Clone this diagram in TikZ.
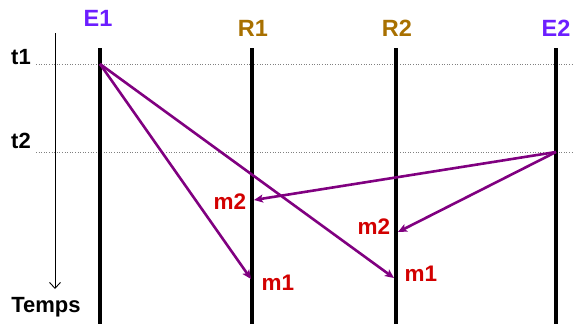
\documentclass[tikz,border=0pt]{standalone}
\usepackage{fontspec}
\setmainfont{Liberation Sans}
\usetikzlibrary{arrows.meta}
\definecolor{emit}{RGB}{108,30,255}
\definecolor{recv}{RGB}{168,112,0}
\definecolor{msg}{RGB}{128,0,128}
\definecolor{lbl}{RGB}{210,0,0}
\tikzset{
  site/.style={font=\fontsize{23.5}{26}\selectfont\bfseries},
  mlabel/.style={font=\fontsize{22.5}{26}\selectfont\bfseries,text=lbl,inner sep=0pt},
  tlabel/.style={font=\fontsize{22}{26}\selectfont\bfseries,inner sep=0pt},
  life/.style={line width=4pt},
  sendmsg/.style={draw=msg,line width=2.6pt,-{Stealth[length=9pt,width=8pt,inset=2pt]}}
}
\begin{document}
\begin{tikzpicture}[x=1pt,y=-1pt]
\useasboundingbox (0,0) rectangle (574,324);
\node[site,text=emit] (E1) at (98,18) {E1};
\node[site,text=recv] (R1) at (253,28) {R1};
\node[site,text=recv] (R2) at (397,28) {R2};
\node[site,text=emit] (E2) at (556,28) {E2};
\node[tlabel] (t1) at (21,57) {t1};
\node[tlabel] (t2) at (21,141) {t2};
\node[tlabel] (temps) at (46,307) {Temps};
\coordinate (axtop) at (55,33);
\coordinate (axbot) at (55,289);
\draw[line width=0.9pt,-{Straight Barb[length=6pt,width=11pt]}] (axtop) -- (axbot);
\coordinate (h1a) at (36,64);
\coordinate (h1b) at (574,64);
\coordinate (h2a) at (36,152);
\coordinate (h2b) at (574,152);
\draw[gray,dotted,line width=0.6pt] (h1a) -- (h1b);
\draw[gray,dotted,line width=0.6pt] (h2a) -- (h2b);
\foreach \n/\x in {e1/100,r1/252,r2/396,e2/556}{
  \coordinate (\n top) at (\x,48);
  \coordinate (\n bot) at (\x,324);
  \draw[life] (\n top) -- (\n bot);
}
\coordinate (e1s) at (100,64);
\coordinate (e2s) at (556,152);
\coordinate (r1m1) at (251,279);
\coordinate (r2m1) at (394,278);
\coordinate (r1m2) at (254,200);
\coordinate (r2m2) at (398,232);
\draw[sendmsg] (e1s) -- (r1m1);
\draw[sendmsg] (e1s) -- (r2m1);
\draw[sendmsg] (e2s) -- (r1m2);
\draw[sendmsg] (e2s) -- (r2m2);
\node[mlabel] (m1a) at (278,283) {m1};
\node[mlabel] (m1b) at (421,274) {m1};
\node[mlabel] (m2a) at (230,202) {m2};
\node[mlabel] (m2b) at (374,227) {m2};
\end{tikzpicture}
\end{document}
